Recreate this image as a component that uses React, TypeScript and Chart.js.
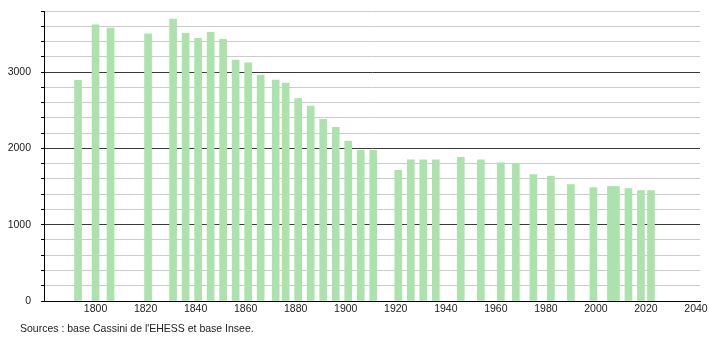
import React, { useEffect, useRef } from "react";
import { Chart, registerables } from "chart.js";

Chart.register(...registerables);

const years = [
  1793, 1800, 1806, 1821, 1831, 1836, 1841, 1846, 1851, 1856,
  1861, 1866, 1872, 1876, 1881, 1886, 1891, 1896, 1901, 1906,
  1911, 1921, 1926, 1931, 1936, 1946, 1954, 1962, 1968, 1975,
  1982, 1990, 1999, 2006, 2008, 2013, 2018, 2022,
];
const population = [
  2890, 3618, 3575, 3500, 3693, 3509, 3443, 3522, 3430, 3158,
  3120, 2960, 2895, 2855, 2654, 2553, 2382, 2276, 2096, 1974,
  1974, 1711, 1851, 1851, 1851, 1882, 1851, 1811, 1798, 1658,
  1636, 1526, 1485, 1500, 1500, 1474, 1447, 1447,
];
const xTickYears = [1800, 1820, 1840, 1860, 1880, 1900, 1920, 1940, 1960, 1980, 2000, 2020, 2040];
const xMin = 1779.4;
const xMax = 2041.6;
const yMax = 3800;
const yStep = 200;
const yLabelStep = 1000;
const sourceText = "Sources : base Cassini de l'EHESS et base Insee.";

const FONT = "'Liberation Sans', Arial, Helvetica, sans-serif";

export default function App() {
  const canvasRef = useRef<HTMLCanvasElement | null>(null);

  useEffect(() => {
    document.body.style.margin = "0";
    const canvas = canvasRef.current;
    if (!canvas) return;
    const chart = new Chart(canvas, {
      type: "bar",
      data: {
        datasets: [
          {
            data: years.map((y, i) => ({ x: y, y: population[i] })),
            backgroundColor: "rgb(172,226,172)",
            borderWidth: 0,
            barThickness: 7,
          },
        ],
      },
      options: {
        animation: false,
        responsive: false,
        events: [],
        layout: { padding: { top: 11, right: 10, left: 0, bottom: 0 } },
        plugins: { legend: { display: false }, tooltip: { enabled: false }, title: { display: false } },
        scales: {
          x: {
            type: "linear",
            min: xMin,
            max: xMax,
            offset: false,
            afterBuildTicks: (scale: any) => {
              scale.ticks = xTickYears.map((v) => ({ value: v }));
            },
            afterFit: (scale: any) => {
              scale.height = 39;
              scale.paddingLeft = 0;
              scale.paddingRight = 0;
            },
            grid: { display: false, drawTicks: false },
            border: { display: true, color: "#000", width: 1 },
            ticks: {
              padding: 2,
              maxRotation: 0,
              autoSkip: false,
              color: "#222",
              font: { family: FONT, size: 10.5 },
              callback: (v: any) => String(v),
            },
          },
          y: {
            min: 0,
            max: yMax,
            afterFit: (scale: any) => {
              scale.width = 44;
              scale.paddingTop = 0;
              scale.paddingBottom = 0;
            },
            grid: {
              color: (ctx: any) => (ctx.tick && ctx.tick.value % yLabelStep === 0 ? "#3a3a3a" : "#cccccc"),
              lineWidth: 1,
              drawTicks: true,
              tickLength: 3,
              tickColor: "#000",
            },
            border: { display: true, color: "#000", width: 1 },
            ticks: {
              stepSize: yStep,
              autoSkip: false,
              padding: 10,
              color: "#222",
              font: { family: FONT, size: 10.5 },
              callback: (v: any) => (Number(v) % yLabelStep === 0 ? String(v) : ""),
            },
          },
        },
      },
    });
    return () => chart.destroy();
  }, []);

  return (
    <div style={{ position: "relative", width: 710, height: 340 }}>
      <canvas ref={canvasRef} width={710} height={340} style={{ display: "block" }} />
      <div
        style={{
          position: "absolute",
          left: 20,
          top: 322,
          fontFamily: FONT,
          fontSize: 10.5,
          lineHeight: "13px",
          color: "#222",
          whiteSpace: "nowrap",
        }}
      >
        {sourceText}
      </div>
    </div>
  );
}
